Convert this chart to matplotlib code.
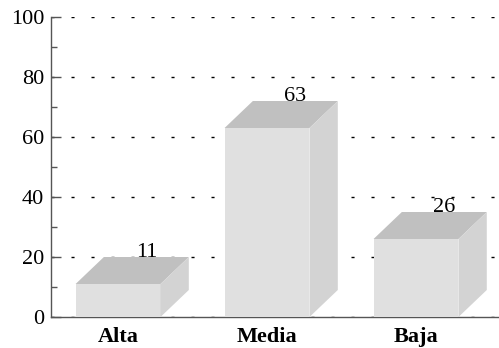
import matplotlib
matplotlib.use('Agg')
import matplotlib.pyplot as plt
from matplotlib.patches import Polygon
from matplotlib.ticker import MultipleLocator

# categories and percentages
categories = ['Alta', 'Media', 'Baja']
values = [11, 63, 26]

plt.rcParams['font.family'] = 'Liberation Serif'
plt.rcParams['lines.scale_dashes'] = False

fig = plt.figure(figsize=(4.99, 3.48), dpi=100)
ax = fig.add_axes([51 / 499, 31 / 348, 448 / 499, 300 / 348])

bar_w = 0.57
dx, dy = 0.19, 9  # depth offset of the fake 3d boxes
front_c, top_c, side_c = '#e0e0e0', '#c0c0c0', '#d3d3d3'

xs = list(range(len(categories)))
ax.bar(xs, values, width=bar_w, color=front_c, zorder=3)
for x, v in zip(xs, values):
    l, r = x - bar_w / 2, x + bar_w / 2
    top = Polygon([(l, v), (r, v), (r + dx, v + dy), (l + dx, v + dy)],
                  closed=True, facecolor=top_c, edgecolor='none', zorder=3)
    side = Polygon([(r, 0), (r + dx, dy), (r + dx, v + dy), (r, v)],
                   closed=True, facecolor=side_c, edgecolor='none', zorder=3)
    ax.add_patch(top)
    ax.add_patch(side)
    ax.text(x + dx, v + dy + 1.5, str(v), ha='center', va='center',
            fontsize=16, zorder=4)

ax.set_xlim(-0.45, 2.557)
ax.set_ylim(0, 100)
ax.set_xticks(xs)
ax.set_xticklabels(categories, fontweight='bold', fontsize=16)
ax.yaxis.set_major_locator(MultipleLocator(20))
ax.yaxis.set_minor_locator(MultipleLocator(10))
ax.tick_params(axis='y', labelsize=16, direction='in', length=7, width=1,
               color='#555555', pad=5)
ax.tick_params(axis='y', which='minor', direction='in', length=4, width=1,
               color='#555555')
ax.tick_params(axis='x', direction='in', length=7, width=1, color='#555555',
               pad=7)

ax.yaxis.grid(True, color='black', linewidth=1, linestyle=(0, (2.2, 12.2)),
              zorder=0)
ax.set_axisbelow(True)

for s in ['top', 'right']:
    ax.spines[s].set_visible(False)
for s in ['left', 'bottom']:
    ax.spines[s].set_color('#555555')
    ax.spines[s].set_linewidth(1)

fig.savefig('out.png', dpi=100)
